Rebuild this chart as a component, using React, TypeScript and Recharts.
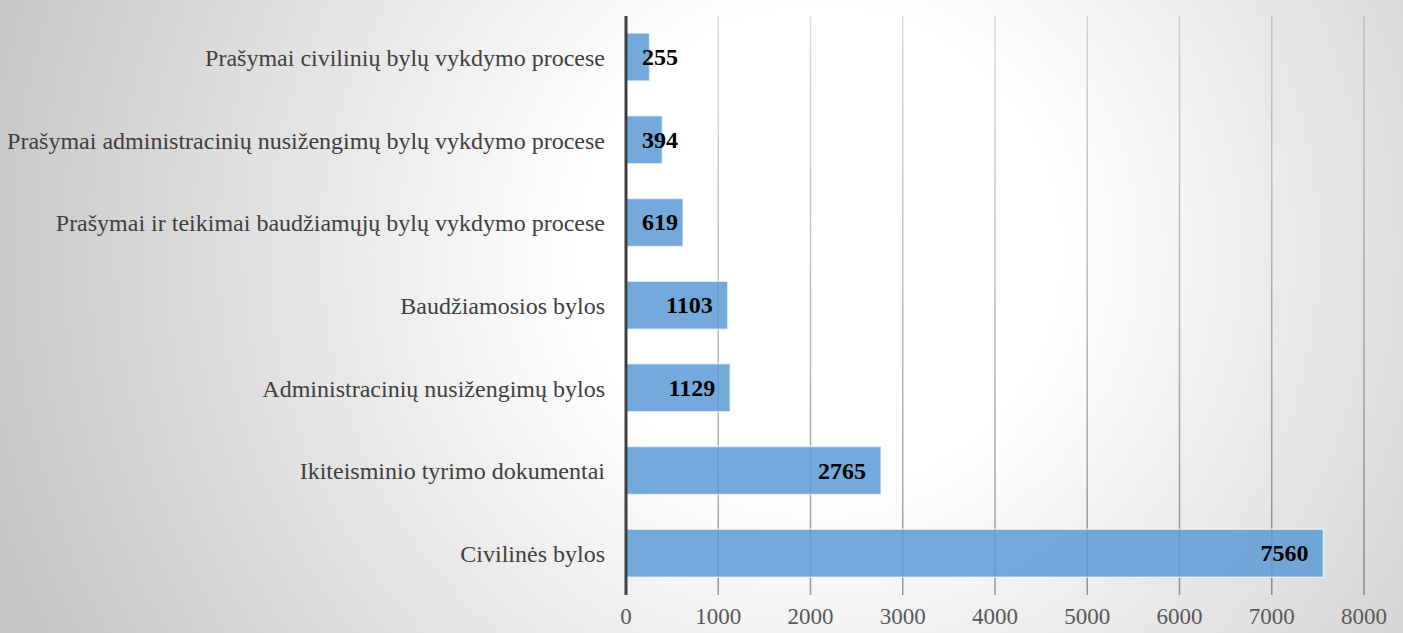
import { BarChart, Bar, XAxis, YAxis, CartesianGrid, LabelList } from 'recharts'

const categories = [
  'Prašymai civilinių bylų vykdymo procese',
  'Prašymai administracinių nusižengimų bylų vykdymo procese',
  'Prašymai ir teikimai baudžiamųjų bylų vykdymo procese',
  'Baudžiamosios bylos',
  'Administracinių nusižengimų bylos',
  'Ikiteisminio tyrimo dokumentai',
  'Civilinės bylos',
]
const counts = [255, 394, 619, 1103, 1129, 2765, 7560]
const xTicks = [0, 1000, 2000, 3000, 4000, 5000, 6000, 7000, 8000]

const data = categories.map((name, i) => ({ name, value: counts[i] }))

const FONT = '"Liberation Serif", "Times New Roman", serif'

// value label sits inside the bar end, but never closer than 16px to the axis
function ValueLabel(props: any) {
  const { x, y, width, height, value } = props
  const textW = String(value).length * 12
  const right = Math.max(x + width - 15, x + 16 + textW)
  return (
    <text
      x={right}
      y={y + height / 2}
      textAnchor="end"
      dominantBaseline="central"
      fontFamily={FONT}
      fontSize={24}
      fontWeight="bold"
      fill="#000"
    >
      {value}
    </text>
  )
}

export default function App() {
  return (
    <div
      style={{
        position: 'absolute',
        left: 0,
        top: 0,
        width: 1403,
        height: 633,
        overflow: 'hidden',
        background:
          'radial-gradient(circle at 820px 250px, #ffffff 0px, #ffffff 240px, #c4c4c4 880px)',
      }}
    >
      <BarChart
        width={1403}
        height={633}
        data={data}
        layout="vertical"
        margin={{ top: 16, right: 39, bottom: 0, left: 0 }}
        barCategoryGap={0}
      >
        <defs>
          <linearGradient id="gridGrad" gradientUnits="userSpaceOnUse" x1="0" y1="16" x2="0" y2="595">
            <stop offset="0%" stopColor="#000" stopOpacity={0.14} />
            <stop offset="100%" stopColor="#000" stopOpacity={0.38} />
          </linearGradient>
        </defs>
        <CartesianGrid horizontal={false} stroke="url(#gridGrad)" strokeWidth={1.5} />
        <XAxis
          type="number"
          domain={[0, 8000]}
          ticks={xTicks}
          axisLine={false}
          tickLine={false}
          tickSize={0}
          tickMargin={13}
          height={38}
          interval={0}
          tick={{ fontFamily: FONT, fontSize: 23, fill: '#595959' }}
        />
        <YAxis
          type="category"
          dataKey="name"
          width={626}
          axisLine={{ stroke: '#404040', strokeWidth: 3 }}
          tickLine={false}
          tickSize={0}
          tickMargin={21}
          interval={0}
          tick={{ fontFamily: FONT, fontSize: 24, fill: '#404040' }}
        />
        <Bar
          dataKey="value"
          fill="#5b9bd5"
          fillOpacity={0.85}
          stroke="rgba(255,255,255,0.6)"
          strokeWidth={1.5}
          barSize={48}
          isAnimationActive={false}
        >
          <LabelList dataKey="value" content={<ValueLabel />} />
        </Bar>
      </BarChart>
    </div>
  )
}
